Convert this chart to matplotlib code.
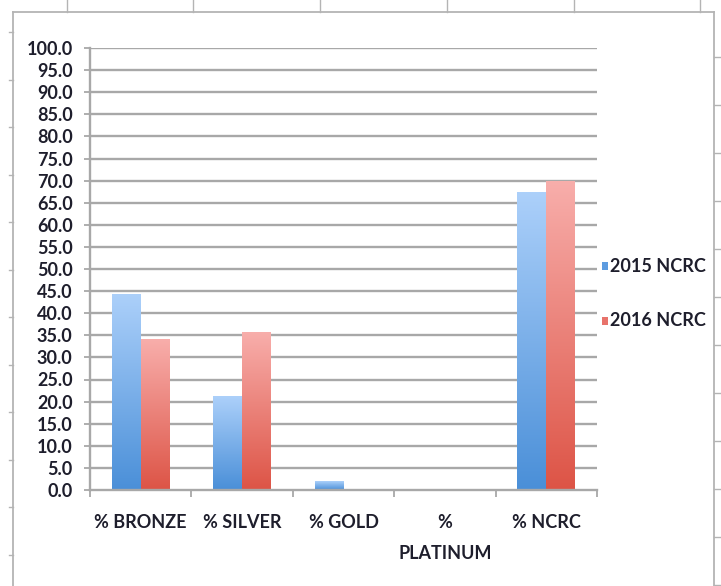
import numpy as np
import matplotlib
matplotlib.use("Agg")
import matplotlib.pyplot as plt
from matplotlib.colors import LinearSegmentedColormap
from matplotlib.patches import Rectangle

# Data
categories = ["% BRONZE", "% SILVER", "% GOLD", "%\nPLATINUM", "% NCRC"]
series_names = ["2015 NCRC", "2016 NCRC"]
values_2015 = [44.3, 21.1, 2.0, 0.0, 67.4]
values_2016 = [34.0, 35.7, 0.0, 0.0, 69.8]
y_ticks = np.arange(0, 101, 5)
y_tick_labels = [f"{v:.1f}" for v in y_ticks]

FONT = ["Lato", "DejaVu Sans"]
TEXT_COLOR = "#1e1e2c"
GRID_COLOR = "#a8a8a8"
FRAME_COLOR = "#b4b4b4"
FS = 13
WEIGHT = "bold"

plt.rcParams["font.family"] = FONT
plt.rcParams["font.weight"] = WEIGHT

W, H, DPI = 721, 586, 100
fig = plt.figure(figsize=(W / DPI, H / DPI), dpi=DPI)

# Outer sheet frame drawn in pixel coordinates
frame = fig.add_axes([0, 0, 1, 1], zorder=0)
frame.set_xlim(0, W)
frame.set_ylim(H, 0)
frame.axis("off")
lw_frame = 1.3
frame.plot([13, 714], [12, 12], color=FRAME_COLOR, lw=lw_frame)
frame.plot([13, 13], [12, H], color=FRAME_COLOR, lw=lw_frame)
frame.plot([714, 714], [12, H], color=FRAME_COLOR, lw=lw_frame)
for x in [67, 193, 320, 447, 574, 700]:
    frame.plot([x, x], [0, 12], color=FRAME_COLOR, lw=1.0)
for y in np.arange(32, H, 47.5):
    frame.plot([9, 13], [y, y], color=FRAME_COLOR, lw=1.0)
for y in np.arange(57, H, 48):
    frame.plot([714, 720], [y, y], color=FRAME_COLOR, lw=1.0)

# Plot area
left_px, right_px, top_px, bottom_px = 90, 597, 48, 490
ax = fig.add_axes([left_px / W, 1 - bottom_px / H,
                   (right_px - left_px) / W, (bottom_px - top_px) / H], zorder=2)
ax.patch.set_alpha(0)

blue_cmap = LinearSegmentedColormap.from_list("blue_grad", ["#4a8fd8", "#acd0fa"])
red_cmap = LinearSegmentedColormap.from_list("red_grad", ["#dd5446", "#f8aeab"])
grad = np.linspace(0, 1, 256).reshape(-1, 1)

bar_w = 0.285
x = np.arange(len(categories))
for vals, cmap, off in [(values_2015, blue_cmap, -bar_w / 2), (values_2016, red_cmap, bar_w / 2)]:
    for xi, v in zip(x, vals):
        if v <= 0:
            continue
        x0 = xi + off - bar_w / 2
        ax.imshow(grad, extent=[x0, x0 + bar_w, 0, v], origin="lower",
                  cmap=cmap, aspect="auto", zorder=3, interpolation="bilinear")

ax.set_xlim(-0.5, len(categories) - 0.5)
ax.set_ylim(0, 100)

# Gridlines
for yv in y_ticks[1:]:
    ax.axhline(yv, color=GRID_COLOR, lw=1.7, zorder=1)

for s in ["top", "right"]:
    ax.spines[s].set_visible(False)
for s in ["left", "bottom"]:
    ax.spines[s].set_color(GRID_COLOR)
    ax.spines[s].set_linewidth(1.7)
    ax.spines[s].set_zorder(4)

ax.set_yticks(y_ticks)
ax.set_yticklabels(y_tick_labels)
ax.tick_params(axis="y", direction="out", length=4.5, width=1.3, color=GRID_COLOR,
               pad=8, labelsize=FS, labelcolor=TEXT_COLOR)

ax.set_xticks(np.arange(-0.5, len(categories)), minor=False)
ax.set_xticklabels([])
ax.tick_params(axis="x", which="major", direction="out", length=5, width=1.3, color=GRID_COLOR)
ax.set_xticks(x, minor=True)
ax.set_xticklabels(categories, minor=True, linespacing=2.0)
ax.tick_params(axis="x", which="minor", length=0, pad=17, labelsize=FS, labelcolor=TEXT_COLOR)
for lab in ax.get_xticklabels(minor=True):
    lab.set_verticalalignment("top")

# Legend
legend_colors = ["#5d9ce0", "#e8736b"]
legend_y = [266, 321]
for name, col, yc in zip(series_names, legend_colors, legend_y):
    frame.add_patch(Rectangle((602, yc - 4), 6, 8, color=col, lw=0))
    frame.text(610, yc, name, fontsize=FS, color=TEXT_COLOR, va="center", ha="left")

fig.savefig("out.png", dpi=DPI)
